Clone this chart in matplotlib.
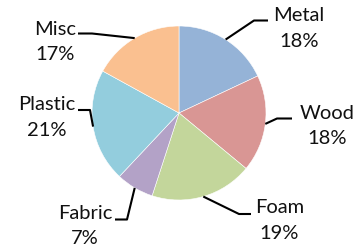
import matplotlib
matplotlib.use('Agg')
import matplotlib.pyplot as plt
import numpy as np

labels = ['Metal', 'Wood', 'Foam', 'Fabric', 'Plastic', 'Misc']
values = [18, 18, 19, 7, 21, 17]
colors = ['#95b3d7', '#d99694', '#c3d69b', '#b3a2c7', '#93cddd', '#fac090']

W, H = 362, 246
cx, cy, rad = 179, 113, 87

# label layout in pixel coords (y down): text centre, elbow points of leader line
label_pos = {
    'Metal': (299, 28.5), 'Wood': (327, 126), 'Foam': (279.5, 220.5),
    'Fabric': (85, 226), 'Plastic': (46.5, 117.5), 'Misc': (55.5, 42),
}
elbows = {
    'Metal': [(254, 20.5), (268, 20.5)],
    'Wood': [(277, 118.5), (292, 118.5)],
    'Foam': [(239, 214), (251, 214)],
    'Fabric': [(127, 219.5), (115, 219.5)],
    'Plastic': [(90, 110), (78, 110)],
    'Misc': [(92, 33.5), (78, 33.5)],
}

plt.rcParams['font.family'] = ['Lato', 'DejaVu Sans']

fig = plt.figure(figsize=(W / 100, H / 100), dpi=100)
ax = fig.add_axes([0, 0, 1, 1])

wedges, _ = ax.pie(values, colors=colors, startangle=90, counterclock=False,
                   center=(cx, H - cy), radius=rad, frame=True,
                   wedgeprops=dict(edgecolor='white', linewidth=0.4))
ax.set_xlim(0, W)
ax.set_ylim(0, H)
ax.axis('off')

total = sum(values)
for w, lab, v in zip(wedges, labels, values):
    mid = np.deg2rad((w.theta1 + w.theta2) / 2)
    x0 = cx + rad * np.cos(mid)
    y0 = (H - cy) + rad * np.sin(mid)
    pts = [(x0, y0)] + [(x, H - y) for x, y in elbows[lab]]
    xs, ys = zip(*pts)
    ax.plot(xs, ys, color='black', lw=1.5, solid_capstyle='butt')
    tx, ty = label_pos[lab]
    ax.text(tx, H - ty, f'{lab}\n{round(v / total * 100)}%', ha='center', va='center',
            fontsize=14.5, linespacing=1.6, color='#111111')

fig.savefig('out.png', dpi=100)
